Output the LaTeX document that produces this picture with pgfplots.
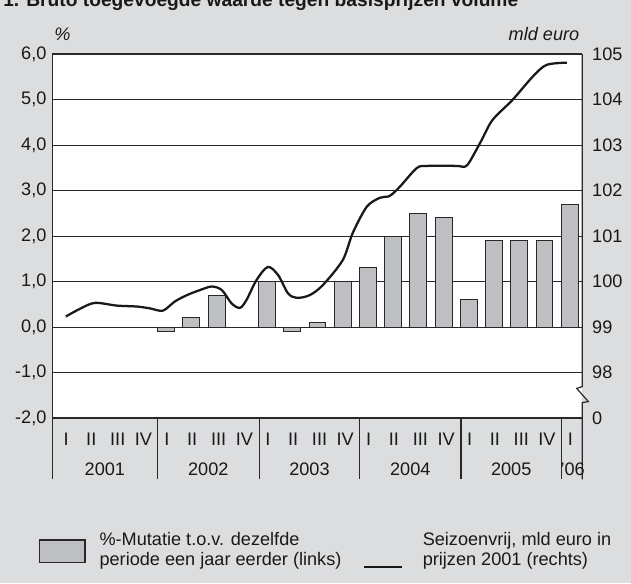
\documentclass[border=0pt]{standalone}
\usepackage{fontspec}
\setmainfont{Liberation Sans}
\usepackage{pgfplots}
\pgfplotsset{compat=1.18}
\definecolor{bg}{RGB}{220,221,223}
\definecolor{barfill}{RGB}{190,191,194}
\definecolor{frm}{RGB}{40,40,40}
\definecolor{txt}{RGB}{25,25,25}
\newcommand{\fs}{\fontsize{13.6pt}{16pt}\selectfont}
\begin{document}
\begin{tikzpicture}[every node/.style={text=txt,font=\fs}]
\begin{scope}[x=0.75pt,y=0.75pt]
\path[use as bounding box] (0,0) rectangle (631,583);
\fill[bg] (0,0) rectangle (631,583);
% title (partly cut off at top, as in the reference)
\node[anchor=base west,inner sep=0,font=\fontsize{14.4pt}{17pt}\selectfont\bfseries] at (3,576.5) {1. Bruto toegevoegde waarde tegen basisprijzen volume};
\node[anchor=center,inner sep=0,font=\fs\itshape] at (62.5,549) {\%};
\node[anchor=east,inner sep=0,font=\fs\itshape] at (579.5,549) {mld euro};
\end{scope}

\begin{axis}[
  at={(39.525pt,123.75pt)}, anchor=south west,
  scale only axis, width=397.2pt, height=273pt,
  xmin=0, xmax=21, ymin=-2, ymax=6,
  clip=false,
  axis line style={draw=none},
  axis background/.style={fill=white},
  major tick length=0pt,
  ytick={-2,-1,0,1,2,3,4,5,6},
  yticklabels={{-2,0},{-1,0},{0,0},{1,0},{2,0},{3,0},{4,0},{5,0},{6,0}},
  yticklabel style={anchor=east,xshift=-1.2pt,font=\fs,text=txt},
  ymajorgrids,
  grid style={draw=frm,line width=0.7pt},
  xtick={0.53,1.53,2.58,3.6,4.53,5.53,6.58,7.6,8.53,9.53,10.58,11.6,12.53,13.53,14.58,15.6,16.53,17.53,18.58,19.6,20.53},
  xticklabels={I,II,III,IV,I,II,III,IV,I,II,III,IV,I,II,III,IV,I,II,III,IV,I},
  xticklabel style={anchor=center,yshift=-15.75pt,font=\fs,text=txt},
]
\addplot[ybar, bar width=0.67, fill=barfill, draw=frm, line width=0.7pt] coordinates {
  (4.5,-0.1) (5.5,0.2) (6.5,0.7)
  (8.5,1.0) (9.5,-0.1) (10.5,0.1) (11.5,1.0)
  (12.5,1.3) (13.5,2.0) (14.5,2.5) (15.5,2.4)
  (16.5,0.6) (17.5,1.9) (18.5,1.9) (19.5,1.9)
  (20.5,2.7)
};
% frame
\draw[frm,line width=0.9pt] (axis cs:21,6) -- (axis cs:0,6) -- (axis cs:0,-2) -- ++(0pt,-46pt);
\draw[frm,line width=0.9pt] (axis cs:0,-2) -- (axis cs:21,-2);
\draw[frm,line width=0.9pt,line join=miter] (axis cs:21,6) -- (axis cs:21,-1.31) -- (axis cs:20.78,-1.35) -- (axis cs:21.24,-1.64) -- (axis cs:21.0,-1.66) -- (axis cs:21,-2) -- ++(0pt,-46pt);
% year separators
\draw[frm,line width=0.9pt] (axis cs:4.15,-2) -- ++(0pt,-46pt);
\draw[frm,line width=0.9pt] (axis cs:8.19,-2) -- ++(0pt,-46pt);
\draw[frm,line width=0.9pt] (axis cs:12.16,-2) -- ++(0pt,-46pt);
\draw[frm,line width=0.9pt] (axis cs:16.19,-2) -- ++(0pt,-46pt);
\draw[frm,line width=0.9pt] (axis cs:20.18,-2) -- ++(0pt,-46pt);
% year labels
\node[anchor=center,yshift=-38.25pt] at (axis cs:2.07,-2) {2001};
\node[anchor=center,yshift=-38.25pt] at (axis cs:6.17,-2) {2002};
\node[anchor=center,yshift=-38.25pt] at (axis cs:10.18,-2) {2003};
\node[anchor=center,yshift=-38.25pt] at (axis cs:14.18,-2) {2004};
\node[anchor=center,yshift=-38.25pt] at (axis cs:18.18,-2) {2005};
\node[anchor=center,yshift=-38.25pt] at (axis cs:20.62,-2) {'06};
\end{axis}

\begin{axis}[
  at={(39.525pt,123.75pt)}, anchor=south west,
  scale only axis, width=397.2pt, height=273pt,
  xmin=0, xmax=21, ymin=97, ymax=105,
  clip=false,
  axis line style={draw=none},
  axis x line=none,
  axis y line*=right,
  major tick length=0pt,
  ytick={97,98,99,100,101,102,103,104,105},
  yticklabels={0,98,99,100,101,102,103,104,105},
  yticklabel style={anchor=west,xshift=3.9pt,font=\fs,text=txt},
]
\addplot[smooth, tension=0.5, line width=1.7pt, color=black!90] coordinates {
  (0.52,99.23) (1.08,99.40) (1.67,99.53) (2.55,99.47) (3.34,99.45)
  (3.85,99.41) (4.37,99.36) (4.84,99.56) (5.32,99.70) (5.83,99.81)
  (6.31,99.89) (6.71,99.81) (7.09,99.52) (7.42,99.42) (7.68,99.59)
  (8.08,100.03) (8.53,100.32) (8.94,100.14) (9.33,99.74) (9.68,99.64)
  (10.19,99.70) (10.71,99.92) (11.50,100.47) (11.90,101.07) (12.45,101.64)
  (12.97,101.84) (13.36,101.88) (13.76,102.08) (14.43,102.49) (14.83,102.54)
  (16.02,102.54) (16.33,102.52) (16.53,102.63) (17.01,103.11) (17.44,103.55)
  (18.23,103.99) (19.03,104.50) (19.58,104.76) (20.39,104.81)
};
\end{axis}

% legend
\begin{scope}[x=0.75pt,y=0.75pt]
\fill[barfill,draw=frm,line width=0.9pt] (39.3,20.3) rectangle (85,43);
\node[anchor=base west,inner sep=0] at (99.3,37.5) {\%-Mutatie t.o.v. dezelfde};
\node[anchor=base west,inner sep=0] at (99.3,17.5) {periode een jaar eerder (links)};
\draw[black!90,line width=1.7pt] (364,16) -- (402,16);
\node[anchor=base west,inner sep=0] at (422.5,37.5) {Seizoenvrij, mld euro in};
\node[anchor=base west,inner sep=0] at (422.5,17.5) {prijzen 2001 (rechts)};
\end{scope}
\end{tikzpicture}
\end{document}
